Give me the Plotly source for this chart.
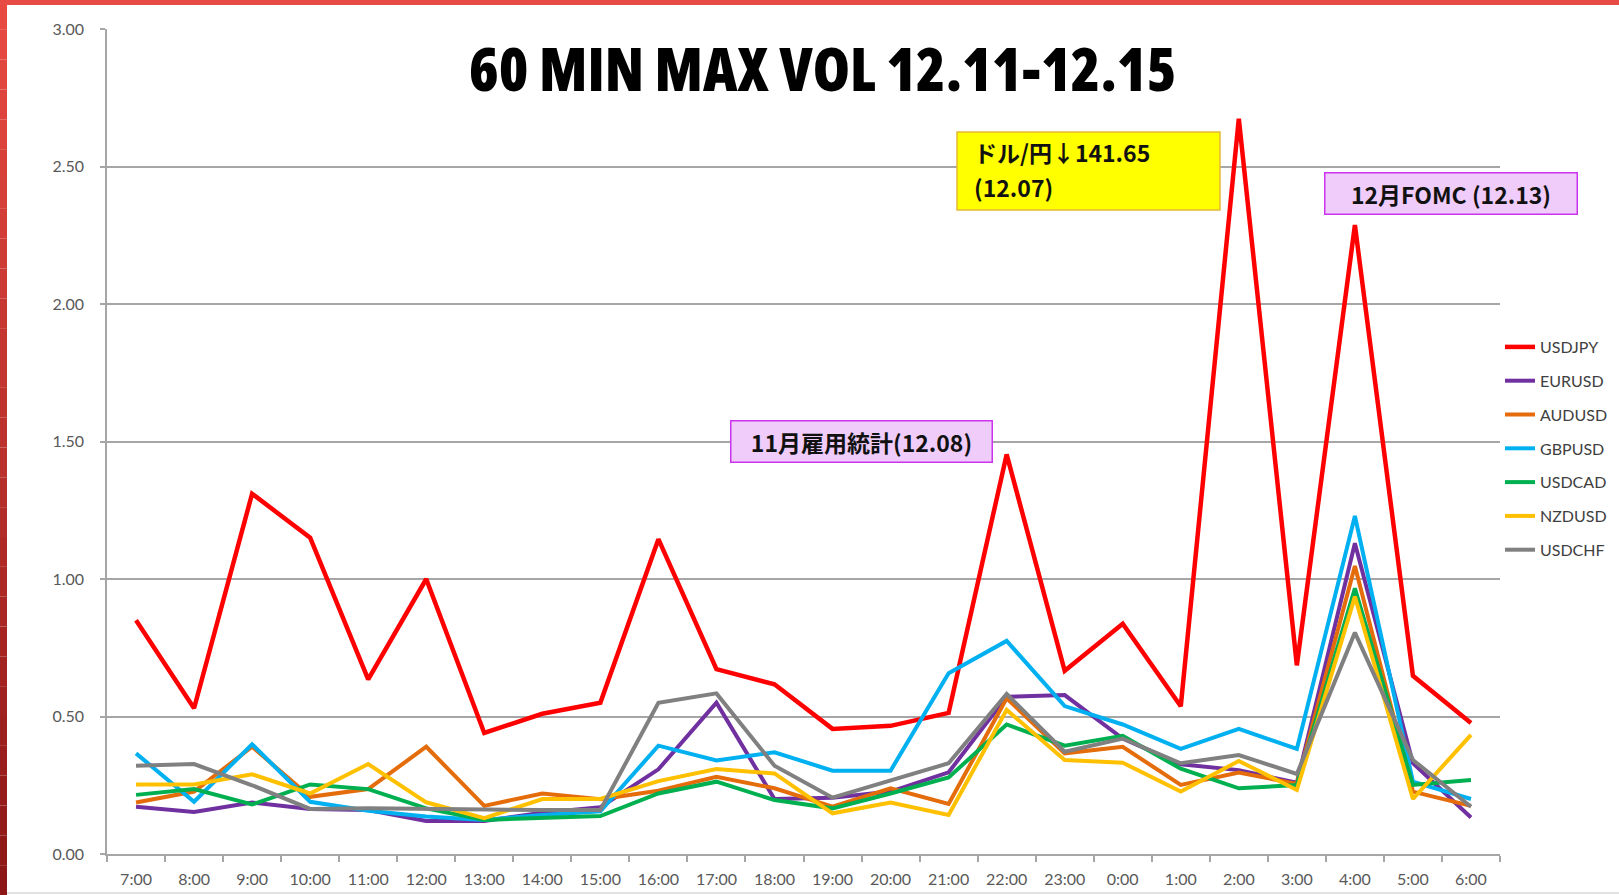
import plotly.graph_objects as go

# ---------------- data ----------------
hours = ["7:00", "8:00", "9:00", "10:00", "11:00", "12:00", "13:00", "14:00", "15:00",
         "16:00", "17:00", "18:00", "19:00", "20:00", "21:00", "22:00", "23:00",
         "0:00", "1:00", "2:00", "3:00", "4:00", "5:00", "6:00"]

usdjpy = [0.85, 0.53, 1.31, 1.15, 0.635, 1.00, 0.44, 0.51, 0.55, 1.145, 0.672, 0.617,
          0.455, 0.466, 0.513, 1.453, 0.666, 0.837, 0.537, 2.674, 0.686, 2.287, 0.648, 0.476]
eurusd = [0.172, 0.153, 0.187, 0.164, 0.16, 0.12, 0.12, 0.15, 0.17, 0.308, 0.55, 0.2,
          0.205, 0.227, 0.297, 0.572, 0.578, 0.42, 0.326, 0.305, 0.259, 1.13, 0.33, 0.133]
audusd = [0.187, 0.227, 0.39, 0.208, 0.236, 0.39, 0.175, 0.22, 0.199, 0.23, 0.281, 0.239,
          0.172, 0.239, 0.182, 0.566, 0.366, 0.39, 0.251, 0.296, 0.255, 1.047, 0.227, 0.175]
gbpusd = [0.366, 0.19, 0.399, 0.19, 0.157, 0.136, 0.124, 0.142, 0.155, 0.394, 0.34, 0.37,
          0.303, 0.303, 0.657, 0.775, 0.538, 0.471, 0.382, 0.455, 0.382, 1.229, 0.263, 0.2]
usdcad = [0.215, 0.236, 0.18, 0.253, 0.236, 0.166, 0.124, 0.13, 0.138, 0.22, 0.263, 0.196,
          0.166, 0.22, 0.278, 0.471, 0.394, 0.43, 0.31, 0.239, 0.251, 0.966, 0.251, 0.269]
nzdusd = [0.253, 0.253, 0.29, 0.22, 0.327, 0.188, 0.13, 0.2, 0.2, 0.265, 0.309, 0.293,
          0.148, 0.187, 0.142, 0.524, 0.342, 0.332, 0.227, 0.338, 0.233, 0.936, 0.2, 0.433]
usdchf = [0.321, 0.327, 0.25, 0.164, 0.166, 0.164, 0.16, 0.16, 0.16, 0.55, 0.584, 0.321,
          0.205, 0.269, 0.33, 0.582, 0.372, 0.42, 0.33, 0.36, 0.291, 0.805, 0.342, 0.172]

series_names = ["USDJPY", "EURUSD", "AUDUSD", "GBPUSD", "USDCAD", "NZDUSD", "USDCHF"]
series_values = [usdjpy, eurusd, audusd, gbpusd, usdcad, nzdusd, usdchf]
series_colors = ["#FF0000", "#7030A0", "#E46C0A", "#00B0F0", "#00B050", "#FFC000", "#808080"]

title_text = "60 MIN MAX VOL 12.11-12.15"
note_yen = ["ドル/円↓141.65", "(12.07)"]
note_nfp = "11月雇用統計(12.08)"
note_fomc = "12月FOMC (12.13)"

# ---------------- layout geometry ----------------
W, H = 1619, 895
L, R, T, B = 107, 119, 29, 41
PW, PH = W - L - R, H - T - B


def px(x):
    return (x - L) / PW


def py(y):
    return (H - B - y) / PH


fig = go.Figure()
for name, vals, col in zip(series_names, series_values, series_colors):
    fig.add_trace(go.Scatter(
        x=hours, y=vals, name=name, mode="lines", legendgroup=name,
        line=dict(color=col, width=4.5 if name == "USDJPY" else 4),
    ))

axis_font = dict(family="Lato, Carlito, sans-serif", size=16, color="#595959")
grid_col = "#A6A6A6"

fig.update_layout(
    width=W, height=H,
    margin=dict(l=L, r=R, t=T, b=B, autoexpand=False),
    paper_bgcolor="white", plot_bgcolor="white",
    showlegend=True,
    legend=dict(x=px(1500), y=py(330), xanchor="left", yanchor="top",
                font=dict(family="Lato, Carlito, sans-serif", size=16, color="#404040"),
                tracegroupgap=10, bgcolor="rgba(0,0,0,0)"),
    xaxis=dict(type="category", range=[-0.5, len(hours) - 0.5], automargin=False,
               showline=True, linecolor=grid_col, linewidth=1.5,
               ticks="outside", tickson="boundaries", ticklen=6, tickcolor=grid_col,
               tickwidth=1.5, tickfont=axis_font, showgrid=False, fixedrange=True,
               ticklabelstandoff=10),
    yaxis=dict(range=[0, 3], dtick=0.5, tickformat=".2f", showline=True, automargin=False,
               linecolor=grid_col, linewidth=1.5, ticks="outside", ticklen=5,
               tickcolor=grid_col, tickwidth=1.5, tickfont=axis_font,
               showgrid=True, gridcolor=grid_col, gridwidth=1.5, zeroline=False,
               ticklabelstandoff=13),
)

shapes = []
# left border (gradient red -> dark red)
n = 30
for i in range(n):
    t0 = i / n
    r = int(232 + (138 - 232) * t0)
    g = int(74 + (22 - 74) * t0)
    b = int(66 + (22 - 66) * t0)
    shapes.append(dict(type="rect", xref="paper", yref="paper",
                       x0=px(0), x1=px(7), y0=py(H * (i + 1) / n), y1=py(H * i / n),
                       fillcolor=f"rgb({r},{g},{b})", line=dict(width=0), layer="above"))
# top border
shapes.append(dict(type="rect", xref="paper", yref="paper", x0=px(0), x1=px(W),
                   y0=py(5), y1=py(0), fillcolor="#E84A44", line=dict(width=0), layer="above"))
# bottom light line
shapes.append(dict(type="line", xref="paper", yref="paper", x0=px(7), x1=px(W),
                   y0=py(893), y1=py(893), line=dict(color="#D9D9D9", width=1.5)))
# yellow note box
shapes.append(dict(type="rect", xref="paper", yref="paper", x0=px(957), x1=px(1220),
                   y0=py(210), y1=py(132), fillcolor="#FFFF00",
                   line=dict(color="#E6B830", width=1.5), layer="above"))
fig.update_layout(shapes=shapes)

jp_font = dict(family="Noto Sans CJK JP, sans-serif", size=23, color="#111111", weight="bold")

annotations = [
    dict(text=f"<span style=\"font-stretch:75%\">{title_text}</span>",
         xref="paper", yref="paper", x=px(823), y=py(68),
         xanchor="center", yanchor="middle", showarrow=False,
         font=dict(family="Open Sans, sans-serif", size=60, color="#000000", weight=800)),
    dict(text=note_yen[0], xref="paper", yref="paper", x=px(972), y=py(152),
         xanchor="left", yanchor="middle", showarrow=False, font=jp_font),
    dict(text=note_yen[1], xref="paper", yref="paper", x=px(972), y=py(187),
         xanchor="left", yanchor="middle", showarrow=False, font=jp_font),
    dict(text=note_nfp, xref="paper", yref="paper", x=px(861.5), y=py(441.5),
         xanchor="center", yanchor="middle", showarrow=False, font=jp_font,
         bgcolor="#F0CCFA", bordercolor="#CC33EE", borderwidth=1.5, borderpad=0,
         width=260, height=40),
    dict(text=note_fomc, xref="paper", yref="paper", x=px(1451), y=py(193.5),
         xanchor="center", yanchor="middle", showarrow=False, font=jp_font,
         bgcolor="#F0CCFA", bordercolor="#CC33EE", borderwidth=1.5, borderpad=0,
         width=251, height=40),
]
fig.update_layout(annotations=annotations)

fig.write_html("out.html", config={"displayModeBar": False},
               post_script="document.body.style.margin='0';document.body.style.overflow='hidden';")
